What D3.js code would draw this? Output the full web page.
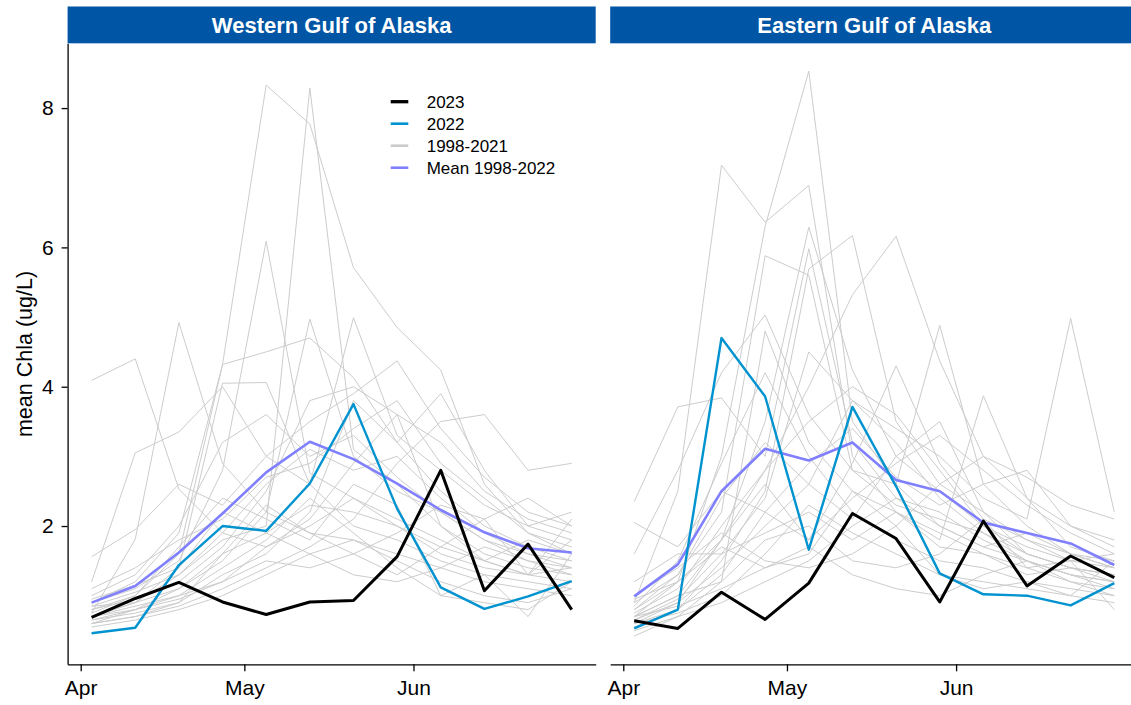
<!DOCTYPE html>
<html><head><meta charset="utf-8">
<script src="https://cdn.jsdelivr.net/npm/d3@7"></script>
<style>
body{margin:0;background:#fff;}
svg{display:block;font-family:"Liberation Sans",Arial,Helvetica,sans-serif;}
</style>
</head><body>
<svg id="chart" width="1131" height="705"></svg>
<script>
// ---------------- DATA ----------------
const dates = ["2023-04-03","2023-04-11","2023-04-19","2023-04-27","2023-05-05","2023-05-13",
               "2023-05-21","2023-05-29","2023-06-06","2023-06-14","2023-06-22","2023-06-30"];
const regions = ["Western Gulf of Alaska", "Eastern Gulf of Alaska"];
const xTickDates = ["2023-04-01","2023-05-01","2023-06-01"];
const xTickLabels = ["Apr","May","Jun"];
const yTicks = [2, 4, 6, 8];
const legendLabels = ["2023", "2022", "1998-2021", "Mean 1998-2022"];
const histYears = d3.range(1998, 2022);

// Western Gulf of Alaska
const wgoa2023 = [0.69,0.96,1.19,0.91,0.73,0.91,0.93,1.56,2.80,1.07,1.74,0.80];
const wgoa2022 = [0.46,0.54,1.44,2.00,1.93,2.61,3.75,2.25,1.12,0.81,0.99,1.21];
const wgoaMean = [0.90,1.14,1.62,2.18,2.77,3.21,2.96,2.61,2.23,1.91,1.68,1.62];
const wgoaHist = [
  [0.80,1.00,1.60,4.32,8.33,7.77,5.71,4.85,4.24,2.60,1.90,1.60],
  [0.70,0.90,1.30,1.80,2.00,8.29,3.10,2.60,2.00,1.60,1.40,1.30],
  [0.90,1.10,1.50,2.80,6.09,2.76,2.40,2.00,1.70,1.50,1.30,1.20],
  [0.75,1.81,4.92,2.90,2.20,1.90,1.80,1.60,1.40,1.20,1.10,1.00],
  [4.09,4.40,2.53,1.90,1.70,2.00,2.40,2.10,1.80,1.50,1.30,1.40],
  [0.90,1.20,1.90,4.32,4.50,4.70,4.13,3.20,2.50,2.00,1.70,1.50],
  [0.70,0.90,1.40,4.05,4.06,2.60,4.99,3.30,2.80,2.30,2.00,1.80],
  [1.56,1.95,2.60,2.30,3.00,3.50,3.90,4.37,3.40,2.70,2.20,2.00],
  [1.20,3.05,3.35,4.00,3.00,2.60,2.00,1.80,1.50,1.30,1.20,1.10],
  [0.60,0.80,1.10,1.50,2.20,4.97,3.00,2.50,2.20,1.80,1.60,1.50],
  [0.65,0.75,0.90,1.30,1.60,2.20,3.80,3.20,3.90,2.80,2.00,2.20],
  [0.60,0.70,0.85,1.10,1.40,1.70,2.10,2.90,3.50,3.60,2.80,2.90],
  [0.85,1.05,1.30,1.90,2.60,3.10,2.80,3.00,2.40,1.90,1.60,1.40],
  [0.55,0.65,0.80,1.00,1.30,1.60,1.80,1.50,1.20,1.00,0.90,1.10],
  [1.00,1.30,2.00,3.20,3.60,3.00,3.30,2.70,2.20,1.80,1.50,1.40],
  [0.70,0.85,1.00,1.40,1.80,2.40,1.90,1.40,1.00,0.90,0.80,1.20],
  [0.80,0.95,1.20,1.70,2.50,3.80,4.00,3.60,3.20,2.50,2.10,1.90],
  [0.65,0.80,0.95,1.20,1.50,1.40,1.60,1.90,2.30,2.10,2.40,2.00],
  [0.75,1.00,1.70,2.40,2.10,1.80,2.60,2.30,1.00,1.30,0.70,1.60],
  [1.10,1.40,1.80,2.10,2.70,2.90,3.40,3.80,2.90,2.40,1.90,1.70],
  [0.60,0.70,0.90,1.60,1.90,2.30,2.20,2.00,1.60,1.40,1.30,2.10],
  [0.95,1.15,1.40,2.20,1.90,1.60,1.30,1.20,1.40,1.70,1.50,1.30],
  [0.70,0.80,1.00,1.20,1.70,2.10,2.90,3.60,2.00,1.50,1.80,1.60],
  [0.85,0.90,1.10,1.60,2.30,1.90,1.60,1.30,1.70,2.10,1.30,1.80]
];

// Eastern Gulf of Alaska
const egoa2023 = [0.64,0.53,1.05,0.66,1.18,2.18,1.82,0.91,2.07,1.14,1.57,1.26];
const egoa2022 = [0.53,0.80,4.70,3.86,1.66,3.71,2.57,1.32,1.02,1.00,0.86,1.18];
const egoaMean = [0.99,1.45,2.50,3.11,2.94,3.20,2.66,2.50,2.05,1.90,1.75,1.44];
const egoaHist = [
  [0.70,1.20,3.00,6.30,8.53,3.50,2.60,2.00,1.70,1.50,1.30,1.20],
  [0.90,2.50,7.18,6.36,6.89,3.00,2.20,1.90,1.60,1.40,1.20,1.10],
  [0.60,0.90,1.80,3.50,6.29,4.24,3.00,2.50,2.00,1.60,1.40,1.30],
  [2.35,3.71,3.84,3.00,5.98,3.20,2.40,2.20,1.80,1.50,1.30,1.20],
  [0.80,1.30,2.20,5.88,5.60,2.80,2.30,2.10,1.90,1.60,1.40,1.30],
  [0.55,0.80,1.50,2.50,5.69,6.17,3.50,2.60,2.20,1.80,1.50,1.40],
  [0.70,1.00,1.80,2.80,4.00,5.32,6.16,4.37,3.00,2.40,2.00,1.80],
  [1.60,2.80,4.20,5.03,3.60,2.80,2.60,4.88,2.60,2.00,1.60,1.40],
  [0.50,0.70,1.20,4.80,3.20,2.50,2.20,1.80,3.87,2.40,1.70,1.50],
  [0.65,0.90,1.40,2.00,2.60,3.80,3.40,3.00,2.40,2.10,4.98,2.20],
  [2.05,1.70,2.50,2.20,1.80,2.40,2.90,3.30,2.80,2.30,1.90,1.60],
  [0.60,0.75,1.00,1.60,2.30,1.90,1.60,1.30,1.20,1.10,1.00,0.90],
  [0.75,1.10,2.00,2.80,3.50,4.00,3.60,2.80,2.00,1.70,1.50,1.60],
  [1.00,1.40,1.90,1.50,1.40,1.60,2.00,2.60,3.00,2.70,2.30,2.10],
  [0.70,0.85,1.10,1.40,1.70,1.30,1.10,1.00,1.30,1.50,1.20,1.00],
  [0.85,1.50,2.90,4.20,3.00,2.20,1.80,1.50,1.40,1.20,1.10,1.00],
  [0.60,0.80,1.30,2.20,2.90,3.40,2.70,2.30,2.60,2.80,2.00,1.70],
  [1.20,1.60,1.60,1.90,2.20,1.80,2.20,1.70,1.60,1.30,1.40,1.20],
  [0.42,0.70,0.90,1.20,1.50,2.00,2.40,2.00,1.70,1.90,1.60,1.50],
  [0.90,1.30,2.40,3.20,2.60,2.10,3.00,3.50,2.20,1.60,1.40,1.30],
  [0.65,0.95,1.60,2.40,4.50,3.80,3.20,2.40,1.90,1.50,1.30,1.10],
  [0.80,1.20,1.80,2.60,1.80,2.90,4.30,2.90,2.10,1.80,1.60,1.40],
  [0.70,1.00,1.20,1.80,2.00,1.50,1.40,1.60,2.10,1.40,1.50,0.80],
  [0.95,1.20,1.70,1.40,1.60,2.50,2.00,1.30,1.10,1.20,1.00,1.50]
];

// ---------------- STYLE ----------------
const colors = {y2023: "#000000", y2022: "#0093D0", hist: "#CCCCCC", mean: "#8080FF"};
const widths = {y2023: 3, y2022: 2.4, hist: 1, mean: 2.6};
const stripFill = "#0055A5";

// ---------------- DRAW ----------------
const parse = d3.timeParse("%Y-%m-%d");
const xDates = dates.map(parse);
const svg = d3.select("#chart");

const yTop = 43.3, yBottom = 664.3;
const y = d3.scaleLinear().domain([0.015, 8.93]).range([yBottom, yTop]);
const padMs = 4.4 * 864e5;

const panels = [
  {name: regions[0], x0: 67.6, x1: 595.7, hist: wgoaHist, s22: wgoa2022, s23: wgoa2023, mean: wgoaMean, first: true},
  {name: regions[1], x0: 610.2, x1: 1138.3, hist: egoaHist, s22: egoa2022, s23: egoa2023, mean: egoaMean, first: false}
];

panels.forEach(p => {
  const x = d3.scaleTime()
    .domain([new Date(+xDates[0] - padMs), new Date(+xDates[xDates.length - 1] + padMs)])
    .range([p.x0, p.x1]);
  const g = svg.append("g");

  // strip
  g.append("rect").attr("x", p.x0).attr("y", 6.5)
    .attr("width", p.x1 - p.x0).attr("height", yTop - 6.5).attr("fill", stripFill);
  g.append("text").attr("x", (p.x0 + p.x1) / 2).attr("y", 33)
    .attr("text-anchor", "middle").attr("fill", "#fff")
    .attr("font-weight", "bold").attr("font-size", "22px").text(p.name);

  const line = d3.line().x((d, i) => x(xDates[i])).y(d => y(d));

  g.append("g").selectAll("path").data(p.hist).join("path")
    .attr("d", line).attr("fill", "none")
    .attr("stroke", colors.hist).attr("stroke-width", widths.hist)
    .attr("stroke-linejoin", "round");

  g.append("path").datum(p.mean).attr("d", line).attr("fill", "none")
    .attr("stroke", colors.mean).attr("stroke-width", widths.mean).attr("stroke-linejoin", "round");
  g.append("path").datum(p.s22).attr("d", line).attr("fill", "none")
    .attr("stroke", colors.y2022).attr("stroke-width", widths.y2022).attr("stroke-linejoin", "round");
  g.append("path").datum(p.s23).attr("d", line).attr("fill", "none")
    .attr("stroke", colors.y2023).attr("stroke-width", widths.y2023).attr("stroke-linejoin", "round");

  // x axis
  const xAxis = d3.axisBottom(x)
    .tickValues(xTickDates.map(parse))
    .tickFormat((d, i) => xTickLabels[i])
    .tickSizeInner(7).tickSizeOuter(0).tickPadding(9);
  const gx = g.append("g").attr("transform", `translate(0,${yBottom})`).call(xAxis);
  gx.select(".domain").attr("stroke", "#000").attr("stroke-width", 1.3);
  gx.selectAll(".tick line").attr("stroke", "#000").attr("stroke-width", 1.3);
  gx.selectAll(".tick text").attr("fill", "#000").attr("font-size", "21px")
    .attr("font-family", "'Liberation Sans',Arial,sans-serif");

  if (p.first) {
    const yAxis = d3.axisLeft(y).tickValues(yTicks).tickFormat(d3.format("d"))
      .tickSizeInner(6).tickSizeOuter(0).tickPadding(8);
    const gy = g.append("g").attr("transform", `translate(${p.x0},0)`).call(yAxis);
    gy.select(".domain").attr("stroke", "#000").attr("stroke-width", 1.3);
    gy.selectAll(".tick line").attr("stroke", "#000").attr("stroke-width", 1.3);
    gy.selectAll(".tick text").attr("fill", "#000").attr("font-size", "21px")
      .attr("font-family", "'Liberation Sans',Arial,sans-serif");

    // legend
    const keys = [
      {label: legendLabels[0], c: colors.y2023, w: 3.3},
      {label: legendLabels[1], c: colors.y2022, w: 2.6},
      {label: legendLabels[2], c: colors.hist, w: 2.6},
      {label: legendLabels[3], c: colors.mean, w: 2.6}
    ];
    const lg = g.append("g").attr("transform", "translate(390.7,101.7)");
    const rows = lg.selectAll("g").data(keys).join("g")
      .attr("transform", (d, i) => `translate(0,${i * 22})`);
    rows.append("line").attr("x1", 0).attr("x2", 17.6).attr("y1", 0).attr("y2", 0)
      .attr("stroke", d => d.c).attr("stroke-width", d => d.w);
    rows.append("text").attr("x", 36).attr("y", 0).attr("dy", "0.36em")
      .attr("font-size", "17px").attr("fill", "#000").text(d => d.label);
  }
});

// y axis title
svg.append("text").attr("transform", "translate(32,354) rotate(-90)")
  .attr("text-anchor", "middle").attr("font-size", "21.5px").attr("fill", "#000")
  .text("mean Chla (ug/L)");
</script>
</body></html>
